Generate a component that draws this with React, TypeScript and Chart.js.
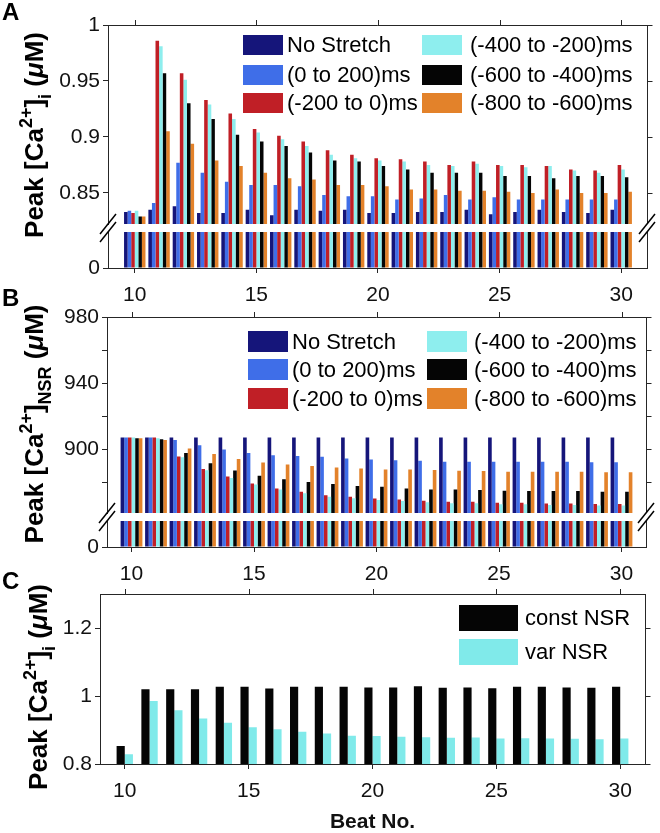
import React, { useEffect, useRef } from 'react';
import { Chart, registerables } from 'chart.js';

Chart.register(...registerables);

const W = 660;
const H = 833;
const FONT = '"Liberation Sans", Arial, Helvetica, sans-serif';
const AX = '#262626';
Chart.defaults.font.family = FONT;

// ---------------- data ----------------
const beats = [10, 11, 12, 13, 14, 15, 16, 17, 18, 19, 20, 21, 22, 23, 24, 25, 26, 27, 28, 29, 30];
const xTickValues = [10, 15, 20, 25, 30];

const stretchLabels = ['No Stretch', '(0 to 200)ms', '(-200 to 0)ms', '(-400 to -200)ms', '(-600 to -400)ms', '(-800 to -600)ms'];
const stretchColors = ['#15157a', '#3f6ee8', '#c01f26', '#8eeeee', '#050505', '#e3822a'];

// Panel A: peak [Ca2+]i (uM)
const caNoStretch = [0.833, 0.835, 0.838, 0.832, 0.832, 0.835, 0.830, 0.835, 0.834, 0.835, 0.832, 0.832, 0.833, 0.833, 0.835, 0.831, 0.833, 0.835, 0.833, 0.832, 0.835];
const ca0to200 = [0.834, 0.841, 0.877, 0.868, 0.860, 0.857, 0.857, 0.856, 0.848, 0.847, 0.847, 0.844, 0.845, 0.848, 0.844, 0.846, 0.844, 0.844, 0.844, 0.844, 0.844];
const caM200to0 = [0.832, 0.986, 0.957, 0.933, 0.921, 0.907, 0.901, 0.896, 0.888, 0.884, 0.881, 0.880, 0.878, 0.875, 0.878, 0.875, 0.875, 0.874, 0.871, 0.870, 0.875];
const caM400toM200 = [0.834, 0.981, 0.951, 0.929, 0.916, 0.904, 0.898, 0.892, 0.884, 0.881, 0.879, 0.878, 0.875, 0.874, 0.876, 0.874, 0.873, 0.874, 0.870, 0.868, 0.871];
const caM600toM400 = [0.829, 0.957, 0.930, 0.916, 0.902, 0.896, 0.892, 0.886, 0.879, 0.878, 0.874, 0.871, 0.868, 0.868, 0.868, 0.865, 0.865, 0.863, 0.865, 0.865, 0.864];
const caM800toM600 = [0.829, 0.905, 0.894, 0.879, 0.874, 0.868, 0.863, 0.862, 0.857, 0.857, 0.856, 0.853, 0.853, 0.852, 0.852, 0.851, 0.850, 0.853, 0.850, 0.850, 0.851];

// Panel B: peak [Ca2+]NSR (uM)
const nsrNoStretch = [907, 907, 907, 907, 907, 907, 907, 907, 907, 907, 907, 907, 907, 907, 907, 907, 907, 907, 907, 907, 907];
const nsr0to200 = [907, 907, 905.5, 902.4, 899.7, 897.7, 896.2, 895.8, 895.3, 894.3, 893.7, 893.3, 892.9, 892.3, 892.3, 892.3, 892.3, 892.3, 892.3, 892, 892];
const nsrM200to0 = [907, 907, 895.5, 888, 883.4, 879.2, 876.2, 874.1, 872.1, 871.1, 870.1, 869.5, 868.7, 868.1, 868.1, 867.5, 867.5, 867.1, 867.1, 866.7, 866.7];
const nsrM400toM200 = [907, 906.5, 895, 887.2, 882.5, 878.5, 875.5, 873.2, 871.2, 870.2, 869.2, 868.6, 867.8, 867.2, 867.2, 866.6, 866.6, 866.2, 866.2, 865.8, 865.8];
const nsrM600toM400 = [906.5, 906, 897.6, 891.5, 887.1, 883.9, 881.8, 880, 878.8, 877.6, 877.2, 876.2, 875.6, 875.6, 875.2, 874.8, 874.6, 874.6, 874.6, 874.1, 874.1];
const nsrM800toM600 = [906.5, 905.5, 900.4, 897, 894, 891.9, 890.7, 889.7, 888.9, 888.3, 887.7, 887.7, 887.3, 886.9, 886.7, 886.3, 886.3, 886.3, 886.3, 886, 886];

// Panel C: peak [Ca2+]i (uM)
const constNSRLabel = 'const NSR';
const varNSRLabel = 'var NSR';
const constNSR = [0.853, 1.02, 1.02, 1.02, 1.027, 1.027, 1.022, 1.027, 1.027, 1.027, 1.025, 1.025, 1.029, 1.024, 1.025, 1.023, 1.027, 1.027, 1.025, 1.024, 1.027];
const varNSR = [0.829, 0.985, 0.958, 0.934, 0.921, 0.908, 0.902, 0.895, 0.890, 0.883, 0.882, 0.880, 0.879, 0.877, 0.878, 0.875, 0.876, 0.875, 0.874, 0.873, 0.875];

const aTicks = [0.85, 0.9, 0.95, 1];
const aLowTicks = [0];
const bTicks = [880, 900, 920, 940, 960, 980];
const bTickLabels = [900, 940, 980];
const bLowTicks = [0];
const cTicks = [0.8, 1, 1.2];

// ---------------- drawing helpers ----------------
type Part = { t: string; sup?: boolean; sub?: boolean; it?: boolean };
type RichItem = { parts: Part[]; x: number; y: number; size: number; bold?: boolean; rotate?: boolean; align?: 'left' | 'center' };

function drawRich(ctx: CanvasRenderingContext2D, it: RichItem) {
  const fontOf = (p: Part) =>
    `${p.it ? 'italic ' : ''}${it.bold ? 'bold ' : ''}${p.sup || p.sub ? Math.round(it.size * 0.7) : it.size}px ${FONT}`;
  ctx.save();
  ctx.translate(it.x, it.y);
  if (it.rotate) ctx.rotate(-Math.PI / 2);
  ctx.fillStyle = '#000';
  ctx.textBaseline = 'alphabetic';
  ctx.textAlign = 'left';
  const widths = it.parts.map((p) => {
    ctx.font = fontOf(p);
    return ctx.measureText(p.t).width;
  });
  const total = widths.reduce((a, b) => a + b, 0);
  let cx = it.align === 'left' ? 0 : -total / 2;
  const base = it.size * 0.36;
  it.parts.forEach((p, i) => {
    ctx.font = fontOf(p);
    const dy = p.sup ? -it.size * 0.45 : p.sub ? it.size * 0.3 : 0;
    ctx.fillText(p.t, cx, base + dy);
    cx += widths[i];
  });
  ctx.restore();
}

type LegendSpec = { cols: number[][]; swX: number[]; textX: number[]; rowY: number[]; swW: number; swH: number; size: number };

type Series = { label: string; color: string; values: number[] };

interface PanelSpec {
  series: Series[];
  L: number; T: number; R: number; B: number;
  xMin: number; xMax: number;
  yMin: number; yMax: number; yTicks: number[]; yFmt: (v: number) => string;
  showX: boolean; xAxisH?: number; xTitle?: string;
  catPct: number; barPct: number;
  frameTop: boolean; topTicks: boolean; rightTicks: boolean;
  breakGap?: number;
  legend?: LegendSpec;
  texts?: RichItem[];
}

function buildConfig(s: PanelSpec): any {
  const xAxisH = s.showX ? s.xAxisH ?? 45 : 0;
  const deco = {
    id: 'deco',
    afterDraw(chart: any) {
      const ctx = chart.ctx as CanvasRenderingContext2D;
      const a = chart.chartArea;
      const xs = chart.scales.x;
      const ys = chart.scales.y;
      ctx.save();
      ctx.strokeStyle = AX;
      ctx.lineWidth = 1;
      ctx.beginPath();
      const r = Math.round(a.right) + 0.5;
      ctx.moveTo(r, a.top);
      ctx.lineTo(r, a.bottom);
      if (s.frameTop) {
        const t = Math.round(a.top) + 0.5;
        ctx.moveTo(a.left, t);
        ctx.lineTo(r, t);
      }
      if (s.topTicks)
        xTickValues.forEach((v) => {
          const px = Math.round(xs.getPixelForValue(v)) + 0.5;
          ctx.moveTo(px, a.top);
          ctx.lineTo(px, a.top - 5);
        });
      if (s.rightTicks)
        s.yTicks.forEach((v) => {
          const py = Math.round(ys.getPixelForValue(v)) + 0.5;
          ctx.moveTo(r, py);
          ctx.lineTo(r + 5, py);
        });
      ctx.stroke();
      if (s.breakGap) {
        ctx.strokeStyle = '#000';
        ctx.lineWidth = 1.5;
        const cy = a.top - s.breakGap / 2;
        [a.left, a.right].forEach((cx: number) => {
          [-4, 4].forEach((d) => {
            ctx.beginPath();
            ctx.moveTo(cx - 8, cy + d + 10);
            ctx.lineTo(cx + 8, cy + d - 10);
            ctx.stroke();
          });
        });
      }
      if (s.legend) {
        const lg = s.legend;
        ctx.font = `${lg.size}px ${FONT}`;
        ctx.textBaseline = 'middle';
        ctx.textAlign = 'left';
        lg.cols.forEach((col, ci) => {
          col.forEach((di, ri) => {
            const ds = chart.data.datasets[di];
            const y = lg.rowY[ri];
            ctx.fillStyle = ds.backgroundColor;
            ctx.fillRect(lg.swX[ci], y - lg.swH / 2, lg.swW, lg.swH);
            ctx.fillStyle = '#000';
            ctx.fillText(ds.label, lg.textX[ci], y + 1);
          });
        });
      }
      ctx.restore();
      (s.texts || []).forEach((t) => drawRich(ctx, t));
    },
  };

  return {
    type: 'bar',
    data: {
      datasets: s.series.map((se) => ({
        label: se.label,
        data: beats.map((b, i) => ({ x: b, y: se.values[i] })),
        backgroundColor: se.color,
        borderWidth: 0,
        categoryPercentage: s.catPct,
        barPercentage: s.barPct,
        clip: 0,
      })),
    },
    options: {
      responsive: false,
      animation: false,
      events: [],
      layout: {
        padding: { left: 0, top: s.T, right: W - s.R, bottom: H - s.B - xAxisH },
      },
      plugins: { legend: { display: false }, tooltip: { enabled: false } },
      scales: {
        x: {
          type: 'linear',
          display: s.showX,
          min: s.xMin,
          max: s.xMax,
          offset: false,
          afterBuildTicks: (sc: any) => {
            sc.ticks = xTickValues.map((v) => ({ value: v }));
          },
          afterFit: (sc: any) => {
            if (s.showX) sc.height = xAxisH;
          },
          grid: { offset: false, drawOnChartArea: false, drawTicks: true, tickLength: 5, color: AX },
          border: { display: true, color: AX, width: 1 },
          ticks: {
            font: { size: 21, family: FONT },
            color: '#111',
            padding: 10,
            maxRotation: 0,
            autoSkip: false,
            callback: (v: any) => String(v),
          },
          title: s.xTitle
            ? {
                display: true,
                text: s.xTitle,
                color: '#111',
                font: { size: 21, weight: 'bold', family: FONT, lineHeight: 1 },
                padding: { top: 0, bottom: 0 },
              }
            : { display: false },
        },
        y: {
          type: 'linear',
          min: s.yMin,
          max: s.yMax,
          beginAtZero: false,
          bounds: 'data',
          afterBuildTicks: (sc: any) => {
            sc.ticks = s.yTicks.map((v) => ({ value: v }));
          },
          afterFit: (sc: any) => {
            sc.width = s.L;
          },
          grid: { drawOnChartArea: false, drawTicks: true, tickLength: 5, color: AX },
          border: { display: true, color: AX, width: 1 },
          ticks: {
            font: { size: 21, family: FONT },
            color: '#111',
            padding: 3,
            autoSkip: false,
            callback: (v: any) => s.yFmt(Number(v)),
          },
        },
      },
    },
    plugins: [deco],
  };
}

// ---------------- panel specs ----------------
const caTitle = (x: number, y: number): RichItem => ({
  parts: [{ t: 'Peak [Ca' }, { t: '2+', sup: true }, { t: ']' }, { t: 'i', sub: true }, { t: ' (' }, { t: 'μ', it: true }, { t: 'M)' }],
  x, y, size: 26, bold: true, rotate: true,
});
const nsrTitle = (x: number, y: number): RichItem => ({
  parts: [{ t: 'Peak [Ca' }, { t: '2+', sup: true }, { t: ']' }, { t: 'NSR', sub: true }, { t: ' (' }, { t: 'μ', it: true }, { t: 'M)' }],
  x, y, size: 26, bold: true, rotate: true,
});
const letter = (t: string, y: number): RichItem => ({ parts: [{ t }], x: 2, y, size: 24, bold: true, align: 'left' });

const aSeries: Series[] = [caNoStretch, ca0to200, caM200to0, caM400toM200, caM600toM400, caM800toM600].map((v, i) => ({
  label: stretchLabels[i], color: stretchColors[i], values: v,
}));
const bSeries: Series[] = [nsrNoStretch, nsr0to200, nsrM200to0, nsrM400toM200, nsrM600toM400, nsrM800toM600].map((v, i) => ({
  label: stretchLabels[i], color: stretchColors[i], values: v,
}));
const cSeries: Series[] = [
  { label: constNSRLabel, color: '#050505', values: constNSR },
  { label: varNSRLabel, color: '#80eaea', values: varNSR },
];

const fmtA = (v: number) => (aTicks.includes(v) ? String(v) : '');
const fmtB = (v: number) => (bTickLabels.includes(v) ? String(v) : '');

const specs: PanelSpec[] = [
  // A upper
  {
    series: aSeries, L: 108, T: 25, R: 647, B: 224, xMin: 8.9, xMax: 31.06,
    yMin: 0.8222, yMax: 1, yTicks: aTicks, yFmt: fmtA, showX: false,
    catPct: 0.88, barPct: 1, frameTop: true, topTicks: true, rightTicks: true,
    legend: { cols: [[0, 1, 2], [3, 4, 5]], swX: [243, 422], textX: [287, 470], rowY: [45, 75, 103], swW: 40, swH: 20, size: 22 },
    texts: [letter('A', 11), caTitle(34, 135)],
  },
  // A lower
  {
    series: aSeries, L: 108, T: 232, R: 647, B: 268, xMin: 8.9, xMax: 31.06,
    yMin: 0, yMax: 0.1, yTicks: aLowTicks, yFmt: (v) => String(v), showX: true, xAxisH: 45,
    catPct: 0.88, barPct: 1, frameTop: false, topTicks: false, rightTicks: false, breakGap: 8,
  },
  // B upper
  {
    series: bSeries, L: 107, T: 317, R: 646, B: 513, xMin: 9, xMax: 31,
    yMin: 861.3, yMax: 980, yTicks: bTicks, yFmt: fmtB, showX: false,
    catPct: 0.89, barPct: 1, frameTop: true, topTicks: true, rightTicks: true,
    legend: { cols: [[0, 1, 2], [3, 4, 5]], swX: [248, 427], textX: [292, 474], rowY: [341.5, 369.5, 398.5], swW: 40, swH: 21, size: 22 },
    texts: [letter('B', 297), nsrTitle(34, 424)],
  },
  // B lower
  {
    series: bSeries, L: 107, T: 521, R: 646, B: 547, xMin: 9, xMax: 31,
    yMin: 0, yMax: 100, yTicks: bLowTicks, yFmt: (v) => String(v), showX: true, xAxisH: 45,
    catPct: 0.89, barPct: 1, frameTop: false, topTicks: false, rightTicks: false, breakGap: 8,
  },
  // C
  {
    series: cSeries, L: 100, T: 594, R: 645, B: 764, xMin: 9, xMax: 31,
    yMin: 0.8, yMax: 1.3, yTicks: cTicks, yFmt: (v) => String(v), showX: true, xAxisH: H - 764, xTitle: 'Beat No.',
    catPct: 0.66, barPct: 1, frameTop: true, topTicks: true, rightTicks: true,
    legend: { cols: [[0, 1]], swX: [459], textX: [525], rowY: [618, 652], swW: 59, swH: 26, size: 22 },
    texts: [letter('C', 580), caTitle(38, 687)],
  },
];

function ChartLayer({ spec }: { spec: PanelSpec }) {
  const ref = useRef<HTMLCanvasElement>(null);
  useEffect(() => {
    if (!ref.current) return;
    const chart = new Chart(ref.current, buildConfig(spec));
    return () => chart.destroy();
  }, [spec]);
  return (
    <canvas
      ref={ref}
      width={W}
      height={H}
      style={{ position: 'absolute', left: 0, top: 0, width: W, height: H }}
    />
  );
}

export default function App() {
  return (
    <div style={{ position: 'fixed', left: 0, top: 0, width: W, height: H, background: '#fff', overflow: 'hidden' }}>
      {specs.map((s, i) => (
        <ChartLayer key={i} spec={s} />
      ))}
    </div>
  );
}
